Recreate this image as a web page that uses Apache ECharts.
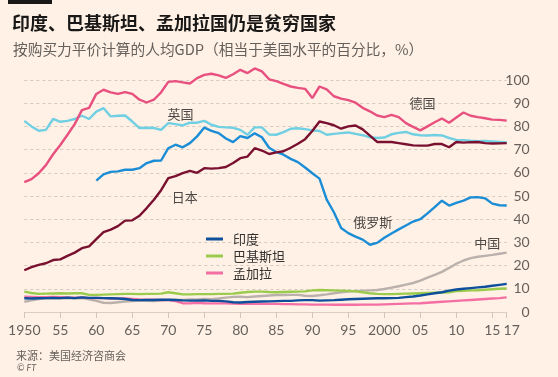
<!DOCTYPE html>
<html><head><meta charset="utf-8">
<script src="https://cdn.jsdelivr.net/npm/echarts@6/dist/echarts.min.js"></script>
<style>html,body{margin:0;padding:0;background:#FFF1E5;}#c{width:558px;height:377px;}</style>
</head><body><div id="c"></div>
<script>
const years = [];
for (let y = 1950; y <= 2017; y++) years.push(y);

const germany = [56,57.3,59.8,63.3,68,72,76.4,81,87,88,
 94,95.8,94.7,94,94.8,94,91.5,90.3,91.5,94.7,
 99.2,99.5,99,98.5,100.8,102.2,102.7,102,100.9,102.5,
 104.4,103,105,103.7,100.3,99.5,98.3,97.2,96.6,96.2,
 92.2,97.2,96,93,92,91.3,90.2,88,86.5,84.7,
 84,85,84,81.4,79.8,78.3,80,81.8,83.4,81.6,
 83.8,86,84.6,84,83.5,82.9,82.8,82.5];
const uk = [82.4,80,78.1,78.5,83.2,82,82.4,83.2,84.6,83.2,
 86.4,87.9,84.3,84.6,84.7,82.1,79.3,79.4,79.3,78.5,
 81.4,81,80.4,81.6,81.6,82.4,80.7,79.8,79.6,79.4,
 78.5,76.4,79.6,79.6,76.5,76.4,77.5,79,79.2,78.8,
 78.3,78,76.4,76.8,77.1,77.4,76.8,76.2,75.3,75,
 75.2,76.6,77.2,77.6,76.6,76.2,76.1,76.3,76.1,75,
 74.2,74.1,73.8,73.6,73.7,73.5,73.3,73.1];
const japan = [18,19.3,20.3,21,22.4,22.7,24.2,25.6,27.5,28.3,
 31.4,34.4,35.5,37,39.4,39.5,41.5,44.8,48.4,52.5,
 57.7,58.6,59.9,60.8,60,62,61.8,62,62.5,64.2,
 66.3,67,70.6,69.6,68.1,68.8,69.3,70.8,72.5,74.5,
 78,82.1,81.4,80.5,79,80,80.4,78.7,76,73.3,
 73.3,73.3,72.8,72.3,71.8,71.7,71.7,72.4,72.4,71,
 73.3,73,73.2,73.3,72.8,72.6,72.7,72.8];
const russia = [null,null,null,null,null,null,null,null,null,null,
 56.6,59.3,60.4,60.6,61.3,61.3,62,64.2,65.2,65.3,
 70.6,72.1,71,72.8,75.7,79.5,78.1,77.1,74.8,73.2,
 75.8,75,77,75.3,70.8,69,67.8,66,64.6,62.3,
 59.8,57.5,48.4,43,36.2,34,32.5,31.2,29,29.8,
 32,33.8,35.6,37.3,39,40,42.5,45.2,48,45.9,
 47,48,49.4,49.5,49,46.7,46,45.9];
const china = [4.4,5,5.6,5.9,5.9,5.9,6,5.9,6,5.5,
 4.8,4.0,3.9,4.2,4.5,4.7,4.9,4.8,4.7,4.9,
 5.2,5.2,5.2,5.4,5.4,5.6,5.5,5.8,6.2,6.5,
 6.6,6.4,6.7,6.9,7.1,7.3,7.3,7.4,7.4,7.0,
 6.9,7.2,7.6,8.1,8.5,8.8,9.0,9.2,9.3,9.5,
 9.9,10.5,11.1,11.8,12.5,13.5,14.8,16,17.3,19,
 20.8,22.2,23.2,23.8,24.2,24.6,25.1,25.6];
const india = [5.9,5.8,5.9,6.0,6.1,6.0,6.2,6.0,6.3,6.1,
 6.1,6.0,5.9,5.8,5.6,5.2,5.1,5.2,5.2,5.3,
 5.3,5.2,5.0,4.9,4.9,5.0,4.8,4.8,4.6,4.2,
 4.1,4.3,4.4,4.5,4.6,4.7,4.8,4.8,5.0,5.1,
 5.1,4.9,5.0,5.1,5.3,5.5,5.6,5.7,5.8,5.9,
 5.9,6.0,6.1,6.4,6.7,7.1,7.6,8.1,8.5,9.2,
 9.7,10.0,10.3,10.6,10.9,11.3,11.7,12.1];
const pakistan = [8.8,8.2,7.8,7.9,8.0,8.1,8.0,8.1,8.1,7.4,
 7.4,7.5,7.6,7.7,7.8,7.8,7.7,7.8,7.8,7.9,
 8.5,8.1,7.6,7.6,7.7,7.7,7.7,7.8,7.8,7.9,
 8.3,8.6,8.8,8.8,8.6,8.5,8.6,8.7,8.8,8.9,
 9.3,9.5,9.4,9.3,9.2,9.1,8.9,8.5,8.1,7.8,
 7.7,7.7,7.8,7.9,8.0,8.1,8.2,8.3,8.4,8.5,
 9.0,9.1,9.3,9.4,9.6,9.8,10.0,10.1];
const bangladesh = [6.6,6.5,6.4,6.4,6.5,6.4,6.3,6.2,6.3,6.0,
 6.1,6.0,5.8,5.8,5.8,5.6,5.4,5.3,5.3,5.2,
 5.1,4.7,3.8,3.7,4.0,3.8,3.7,3.7,3.7,3.6,
 3.5,3.5,3.5,3.5,3.5,3.5,3.4,3.4,3.3,3.3,
 3.2,3.2,3.2,3.1,3.1,3.1,3.1,3.2,3.2,3.2,
 3.3,3.4,3.5,3.6,3.7,3.8,4.0,4.2,4.4,4.6,
 4.8,5.0,5.2,5.4,5.6,5.8,6.0,6.3];

const xTicks = [1950,1955,1960,1965,1970,1975,1980,1985,1990,1995,2000,2005,2010,2015,2017];
const xLabelsMain = [1950,1955,1960,1965,1970,1975,1980,1985,1990,1995,2000,2005,2010,2015];
const xLabelsEnd = [2017];
const yTicks = [0,10,20,30,40,50,60,70,80,90,100];
const titleText = '印度、巴基斯坦、孟加拉国仍是贫穷国家';
const subText = '按购买力平价计算的人均GDP（相当于美国水平的百分比，%）';
const sourceText = '来源：美国经济咨商会';
// annotation anchors in data space [year, value]
const annotations = [
  {text: '英国', at: [1971.7, 85.5]},
  {text: '日本', at: [1972.3, 49.6]},
  {text: '德国', at: [2005.3, 90]},
  {text: '俄罗斯', at: [1998.4, 38.6]},
  {text: '中国', at: [2014.3, 29.8]}
];

const CJK = "'Noto Sans CJK SC', 'Noto Sans', sans-serif";
const NUM = "Lato, 'Noto Sans', sans-serif";
const pair = arr => years.map((y, i) => [y, arr[i]]);
const yearLabel = v => (v === 1950 || v === 2000) ? String(v) : String(v).slice(2);

const seriesDefs = [
  {name: '中国', data: china, color: '#BBB1AC'},
  {name: '巴基斯坦', data: pakistan, color: '#9BCB4C'},
  {name: '孟加拉', data: bangladesh, color: '#F46FA3'},
  {name: '印度', data: india, color: '#0E4F9B'},
  {name: '英国', data: uk, color: '#70CFE2'},
  {name: '俄罗斯', data: russia, color: '#1B8DD6'},
  {name: '日本', data: japan, color: '#79102F'},
  {name: '德国', data: germany, color: '#E8507F'}
];

const chart = echarts.init(document.getElementById('c'), null, {renderer: 'canvas'});
const xBase = {
  type: 'value', min: years[0], max: years[years.length - 1], position: 'bottom',
  splitLine: {show: false}
};
const option = {
  backgroundColor: '#FFF1E5',
  animation: false,
  title: [
    {text: titleText, left: 7, top: 9, textStyle: {fontFamily: CJK, fontSize: 18, fontWeight: 'bold', color: '#1A1817'}},
    {text: subText, left: 8, top: 37, textStyle: {fontFamily: CJK, fontSize: 14.7, fontWeight: 'normal', color: '#66605C'}},
    {text: sourceText, left: 11, top: 345, textStyle: {fontFamily: CJK, fontSize: 11, fontWeight: 'normal', color: '#66605C'}},
    {text: '© FT', left: 12, top: 359, textStyle: {fontFamily: NUM, fontSize: 9, fontStyle: 'italic', fontWeight: 'normal', color: '#66605C'}}
  ],
  legend: {
    orient: 'vertical', left: 201, top: 227,
    data: ['印度', '巴基斯坦', '孟加拉'],
    icon: 'rect', itemWidth: 17, itemHeight: 3, itemGap: 3,
    textStyle: {fontFamily: CJK, fontSize: 13, color: '#33302E', lineHeight: 14, padding: [0, 0, 0, 5]},
    selectedMode: false
  },
  grid: {left: 24.3, right: 51.3, top: 80, bottom: 65, containLabel: false},
  xAxis: [
    Object.assign({}, xBase, {
      interval: 5,
      axisLine: {show: true, lineStyle: {color: '#D9CFC4', width: 1}},
      axisTick: {show: true, length: 6, customValues: xTicks, lineStyle: {color: '#D1C6BB', width: 1}},
      axisLabel: {
        fontFamily: NUM, fontSize: 14, color: '#66605C', margin: 11,
        customValues: xLabelsMain, hideOverlap: false, formatter: yearLabel
      }
    }),
    Object.assign({}, xBase, {
      axisLine: {show: false}, axisTick: {show: false},
      axisLabel: {
        fontFamily: NUM, fontSize: 14, color: '#66605C', margin: 11,
        customValues: xLabelsEnd, hideOverlap: false, padding: [0, 0, 0, 10], formatter: yearLabel
      }
    })
  ],
  yAxis: {
    type: 'value', position: 'right', min: yTicks[0], max: yTicks[yTicks.length - 1], interval: 10,
    axisLine: {show: false}, axisTick: {show: false},
    splitLine: {show: true, lineStyle: {color: '#D4CABE', type: [3, 3], width: 1}},
    axisLabel: {fontFamily: NUM, fontSize: 14, color: '#66605C', align: 'right', margin: 23}
  },
  series: seriesDefs.map(s => ({
    name: s.name, type: 'line', data: pair(s.data), showSymbol: false, symbol: 'none',
    xAxisIndex: 0, clip: false, connectNulls: false, smooth: false,
    lineStyle: {color: s.color, width: 2.4}, itemStyle: {color: s.color}
  }))
};
chart.setOption(option);

const gfx = [{type: 'rect', shape: {x: 8, y: 0, width: 44, height: 4}, style: {fill: '#1A1817'}}];
annotations.forEach(a => {
  const p = chart.convertToPixel({gridIndex: 0}, a.at);
  gfx.push({type: 'text', x: p[0], y: p[1], style: {text: a.text, fill: '#4D4845', font: "13px 'Noto Sans CJK SC'", textAlign: 'center', textVerticalAlign: 'middle'}});
});
chart.setOption({graphic: gfx});
</script></body></html>
